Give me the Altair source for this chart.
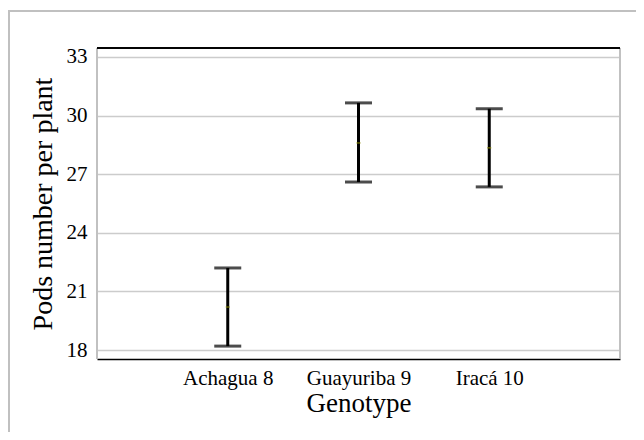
import altair as alt
import pandas as pd

genotypes = ["Achagua 8", "Guayuriba 9", "Iracá 10"]
low = [18.2, 26.6, 26.35]
high = [22.2, 30.65, 30.35]
mean = [20.2, 28.6, 28.35]
y_ticks = [18, 21, 24, 27, 30, 33]
y_min, y_max = 17.54, 33.46

df = pd.DataFrame({"Genotype": genotypes, "low": low, "high": high, "mean": mean})

W, H = 523, 311
FONT = "Liberation Serif"

x_enc = alt.X(
    "Genotype:N",
    sort=genotypes,
    scale=alt.Scale(type="point", padding=1.11),
    axis=alt.Axis(
        title="Genotype", labelAngle=0, ticks=False, grid=False,
        domainColor="black", domainWidth=1.5,
        labelFontSize=21, labelPadding=8,
        titleFontSize=27, titlePadding=2,
    ),
)
y_scale = alt.Scale(domain=[y_min, y_max], nice=False, zero=False)

bars = alt.Chart(df).mark_rule(color="black", strokeWidth=3).encode(
    x=x_enc,
    y=alt.Y(
        "low:Q", scale=y_scale,
        axis=alt.Axis(
            title="Pods number per plant", values=y_ticks, ticks=False, domain=False,
            grid=True, gridColor="#cccccc", gridWidth=1.5,
            labelFontSize=21, labelPadding=10,
            titleFontSize=28, titlePadding=9,
        ),
    ),
    y2="high:Q",
)
cap_lo = alt.Chart(df).mark_tick(color="black", size=27, thickness=3, orient="horizontal").encode(
    x=alt.X("Genotype:N", sort=genotypes), y="low:Q"
)
cap_hi = alt.Chart(df).mark_tick(color="black", size=27, thickness=3, orient="horizontal").encode(
    x=alt.X("Genotype:N", sort=genotypes), y="high:Q"
)
mid = alt.Chart(df).mark_tick(color="#8a8a00", size=4, thickness=1.5, orient="horizontal").encode(
    x=alt.X("Genotype:N", sort=genotypes), y="mean:Q"
)

top_line = alt.Chart(df).mark_rule(color="black", strokeWidth=1.5).encode(
    x=alt.value(0), x2=alt.value(W), y=alt.value(0)
)
left_line = alt.Chart(df).mark_rule(color="#c0c0c0", strokeWidth=1.5).encode(
    x=alt.value(0), y=alt.value(0), y2=alt.value(H)
)
right_line = alt.Chart(df).mark_rule(color="#c0c0c0", strokeWidth=1.5).encode(
    x=alt.value(W), y=alt.value(0), y2=alt.value(H)
)
frame = alt.Chart(df).mark_rect(fill=None, stroke="#c0c0c0", strokeWidth=2).encode(
    x=alt.value(-88), y=alt.value(-37), x2=alt.value(900), y2=alt.value(800)
)

chart = alt.layer(
    frame, left_line, right_line, top_line, bars, cap_lo, cap_hi, mid
).properties(
    width=W, height=H,
    autosize=alt.AutoSizeParams(type="none"),
    padding={"left": 89, "top": 40, "right": 16, "bottom": 73},
).configure_view(stroke=None).configure_axis(
    labelFont=FONT, titleFont=FONT, labelColor="black", titleColor="black",
    titleFontWeight="normal",
)

chart.save("out.html", embed_options={"renderer": "svg", "actions": False})
